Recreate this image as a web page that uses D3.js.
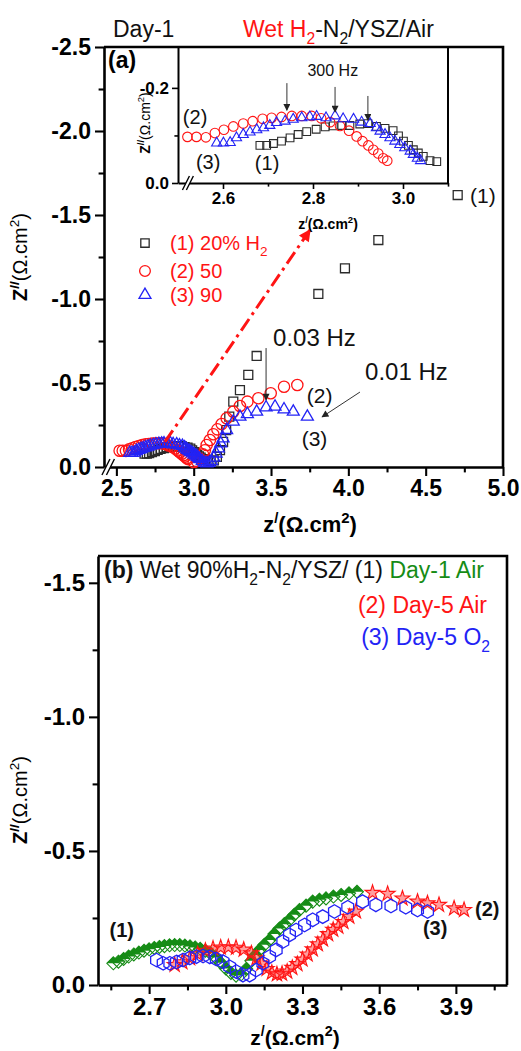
<!DOCTYPE html>
<html lang="en">
<head>
<meta charset="UTF-8">
<title>Impedance spectra, wet H2-N2/YSZ</title>
<style>
  body { margin: 0; background: #fff; }
  svg text { font-family: Arial, "Liberation Sans", sans-serif; }
</style>
<script src="https://d3js.org/d3.v7.min.js"></script>
</head>
<body>
<script>
// ---------- panel (a): high-frequency arcs (also shown in the inset), [Z', Z'']
var hfH2_20 = [[2.682,-0.079],[2.697,-0.079],[2.712,-0.083],[2.730,-0.088],[2.749,-0.095],[2.767,-0.102],
  [2.786,-0.108],[2.807,-0.113],[2.827,-0.118],[2.845,-0.120],[2.864,-0.121],[2.882,-0.121],[2.904,-0.124],
  [2.922,-0.125],[2.941,-0.119],[2.960,-0.115],[2.978,-0.110],[2.990,-0.099],[3.001,-0.088],[3.012,-0.079],
  [3.023,-0.070],[3.034,-0.063],[3.045,-0.056],[3.060,-0.047],[3.075,-0.045]];
var hfH2_50 = [[2.521,-0.097],[2.541,-0.097],[2.562,-0.096],[2.582,-0.105],[2.602,-0.112],[2.623,-0.119],
  [2.645,-0.125],[2.666,-0.130],[2.688,-0.135],[2.708,-0.137],[2.730,-0.139],[2.753,-0.141],[2.775,-0.141],
  [2.797,-0.141],[2.818,-0.136],[2.838,-0.128],[2.860,-0.120],[2.880,-0.110],[2.897,-0.098],[2.910,-0.088],
  [2.923,-0.079],[2.934,-0.070],[2.945,-0.062],[2.956,-0.052],[2.965,-0.047]];
var hfH2_90 = [[2.586,-0.084],[2.601,-0.084],[2.616,-0.085],[2.630,-0.095],[2.645,-0.102],[2.660,-0.107],
  [2.675,-0.112],[2.690,-0.116],[2.704,-0.121],[2.719,-0.127],[2.738,-0.130],[2.756,-0.134],[2.775,-0.137],
  [2.793,-0.139],[2.808,-0.140],[2.829,-0.137],[2.849,-0.141],[2.867,-0.135],[2.890,-0.134],[2.908,-0.128],
  [2.927,-0.125],[2.941,-0.116],[2.949,-0.109],[2.960,-0.102],[2.971,-0.095],[2.982,-0.088],[2.993,-0.081],
  [3.004,-0.074],[3.016,-0.067],[3.023,-0.060],[3.032,-0.052],[3.039,-0.047]];
// ---------- panel (a): low-frequency part (main plot only)
var lfH2_20 = [[3.090,-0.040],[3.110,-0.035],[3.130,-0.040],[3.150,-0.060],[3.170,-0.100],[3.190,-0.150],
  [3.210,-0.220],[3.230,-0.300],[3.256,-0.389],[3.299,-0.458],[3.353,-0.548],[3.407,-0.661],
  [3.806,-1.030],[3.978,-1.183],[4.194,-1.351],[4.707,-1.619]];
var lfH2_50 = [[3.000,-0.030],[3.020,-0.035],[3.040,-0.050],[3.060,-0.075],[3.072,-0.100],[3.084,-0.131],
  [3.105,-0.161],[3.127,-0.195],[3.153,-0.224],[3.181,-0.256],[3.213,-0.290],[3.256,-0.329],[3.299,-0.363],
  [3.347,-0.389],[3.418,-0.409],[3.498,-0.439],[3.584,-0.478],[3.670,-0.488]];
var lfH2_90 = [[3.055,-0.035],[3.070,-0.025],[3.085,-0.022],[3.100,-0.025],[3.115,-0.035],[3.130,-0.055],
  [3.145,-0.080],[3.160,-0.110],[3.175,-0.140],[3.190,-0.170],[3.213,-0.220],[3.256,-0.270],[3.299,-0.299],
  [3.347,-0.315],[3.407,-0.329],[3.468,-0.355],[3.526,-0.359],[3.584,-0.343],[3.644,-0.329],[3.735,-0.299]];

// ---------- panel (b), [Z', Z'']
var day1Air = [[2.560,-0.081],[2.580,-0.087],[2.600,-0.097],[2.620,-0.106],[2.640,-0.114],[2.660,-0.121],
  [2.680,-0.128],[2.700,-0.133],[2.720,-0.138],[2.740,-0.142],[2.760,-0.145],[2.780,-0.148],[2.800,-0.149],
  [2.820,-0.149],[2.840,-0.147],[2.860,-0.144],[2.880,-0.140],[2.900,-0.135],[2.920,-0.128],[2.940,-0.118],
  [2.960,-0.103],[2.980,-0.083],[3.000,-0.062],[3.020,-0.045],[3.040,-0.035],[3.060,-0.040],[3.080,-0.060],
  [3.100,-0.090],[3.116,-0.112],[3.132,-0.131],[3.151,-0.150],[3.171,-0.168],[3.190,-0.190],[3.210,-0.211],
  [3.229,-0.227],[3.249,-0.243],[3.268,-0.262],[3.288,-0.280],[3.314,-0.296],[3.340,-0.311],[3.366,-0.318],
  [3.392,-0.323],[3.421,-0.330],[3.451,-0.336],[3.482,-0.342],[3.513,-0.348]];
var day5Air = [[2.800,-0.075],[2.830,-0.085],[2.860,-0.100],[2.890,-0.115],[2.920,-0.128],[2.950,-0.136],
  [2.980,-0.140],[3.010,-0.141],[3.040,-0.139],[3.070,-0.132],[3.100,-0.118],[3.120,-0.100],[3.140,-0.080],
  [3.160,-0.060],[3.180,-0.046],[3.200,-0.040],[3.220,-0.042],[3.240,-0.050],[3.260,-0.064],[3.280,-0.078],
  [3.300,-0.095],[3.320,-0.114],[3.340,-0.133],[3.360,-0.152],[3.380,-0.170],[3.400,-0.190],[3.420,-0.206],
  [3.440,-0.218],[3.460,-0.235],[3.483,-0.255],[3.509,-0.274],[3.574,-0.344],[3.633,-0.340],[3.691,-0.323],
  [3.750,-0.311],[3.789,-0.305],[3.834,-0.299],[3.893,-0.286],[3.932,-0.280]];
var day5O2 = [[2.729,-0.093],[2.755,-0.081],[2.781,-0.081],[2.807,-0.086],[2.833,-0.093],[2.859,-0.101],
  [2.885,-0.106],[2.911,-0.108],[2.937,-0.105],[2.963,-0.097],[2.989,-0.087],[3.015,-0.068],[3.041,-0.050],
  [3.067,-0.037],[3.093,-0.037],[3.119,-0.056],[3.145,-0.081],[3.171,-0.106],[3.197,-0.131],[3.223,-0.162],
  [3.249,-0.187],[3.275,-0.205],[3.308,-0.224],[3.340,-0.243],[3.379,-0.255],[3.425,-0.274],[3.477,-0.290],
  [3.535,-0.311],[3.587,-0.299],[3.646,-0.295],[3.704,-0.290],[3.750,-0.280],[3.789,-0.274]];

// ---------- ticks
var aXTicks = [2.5, 3.0, 3.5, 4.0, 4.5, 5.0];
var aXMinor = [2.75, 3.25, 3.75, 4.25, 4.75];
var aYTicks = [0, -0.5, -1.0, -1.5, -2.0, -2.5];
var aYMinor = [-0.25, -0.75, -1.25, -1.75, -2.25];
var inXTicks = [2.6, 2.8, 3.0];
var inXMinor = [2.7, 2.9, 3.1];
var inYTicks = [0, -0.2];
var inYMinor = [-0.1];
var bXTicks = [2.7, 3.0, 3.3, 3.6, 3.9];
var bXMinor = [2.55, 2.85, 3.15, 3.45, 3.75, 4.05];
var bYTicks = [0, -0.5, -1.0, -1.5];
var bYMinor = [-0.25, -0.75, -1.25];

// ---------- annotations, in data units
var legendRowsA = [-1.333, -1.167, -1.024];
var notesA = [
  {t: '(1)', x: 4.787, y: -1.571, fs: 21},
  {t: '(2)', x: 3.731, y: -0.381, fs: 21},
  {t: '(3)', x: 3.698, y: -0.125, fs: 21},
  {t: '0.03 Hz', x: 3.513, y: -0.72, fs: 24},
  {t: '0.01 Hz', x: 4.108, y: -0.518, fs: 24}
];
var arrowsA = [[3.468, -0.708, 3.468, -0.399], [4.075, -0.446, 3.830, -0.298]];
var trendA = [2.814, -0.149, 3.752, -1.411];
var notesI = [
  {t: '(2)', x: 2.538, y: -0.124, fs: 20},
  {t: '(3)', x: 2.567, y: -0.029, fs: 20},
  {t: '(1)', x: 2.698, y: -0.027, fs: 20},
  {t: '300 Hz', x: 2.844, y: -0.225, fs: 16}
];
var arrowsI = [[2.742, -0.210, 2.742, -0.153], [2.849, -0.202, 2.849, -0.149], [2.922, -0.183, 2.922, -0.132]];
var notesB = [
  {t: '(1)', x: 2.593, y: -0.179, a: 'middle'},
  {t: '(2)', x: 3.975, y: -0.257, a: 'start'},
  {t: '(3)', x: 3.771, y: -0.187, a: 'start'}
];

var RED = '#ff1414', BLUE = '#2323f5', GREEN = '#168c16', BLACK = '#2b2b2b';

var svg = d3.select('body').append('svg').attr('width', 521).attr('height', 1051);

var defs = svg.append('defs');
function arrowHead(id, color, w, h) {
  defs.append('marker').attr('id', id)
    .attr('viewBox', '0 0 10 10').attr('refX', 9).attr('refY', 5)
    .attr('markerWidth', w).attr('markerHeight', h)
    .attr('markerUnits', 'userSpaceOnUse').attr('orient', 'auto')
    .append('path').attr('d', 'M0,0L10,5L0,10Z').attr('fill', color);
}
arrowHead('ahRed', RED, 15, 12);
arrowHead('ahBlk', '#222', 9, 7);

// scales
var xa = d3.scaleLinear().domain([2.42, 5.0]).range([104, 503]);
var ya = d3.scaleLinear().domain([0, -2.5]).range([467, 47]);
var xi = d3.scaleLinear().domain([2.5, 3.1]).range([178, 448]);
var yi = d3.scaleLinear().domain([0, -0.286]).range([183, 47]);
var xb = d3.scaleLinear().domain([2.5, 4.1]).range([98, 507]);
var yb = d3.scaleLinear().domain([0, -1.6]).range([985, 556]);

var fmt1 = function(d) { return Math.abs(d) < 1e-9 ? '0.0' : d.toFixed(1); };

// text with sub / superscripts
function richText(sel, x, y, fs, parts, attrs) {
  var t = sel.append('text').attr('x', x).attr('y', y).style('font-size', fs + 'px');
  Object.keys(attrs || {}).forEach(function(k) { t.attr(k, attrs[k]); });
  var cur = 0;
  parts.forEach(function(p) {
    var target = p.sub ? 0.3 * fs : p.sup ? -0.42 * fs : 0;
    var s = t.append('tspan').attr('dy', target - cur).text(p.t);
    cur = target;
    if (p.sub || p.sup) s.style('font-size', (fs * 0.68) + 'px');
    if (p.fill) s.attr('fill', p.fill);
    if (p.bold) s.style('font-weight', 'bold');
    if (p.normal) s.style('font-weight', 'normal');
  });
  return t;
}

function axes(g, x, y, o) {
  var x0 = x.range()[0], x1 = x.range()[1], y0 = y.range()[0], y1 = y.range()[1];
  var bx = g.append('g').attr('transform', 'translate(0,' + y0 + ')');
  bx.call(d3.axisBottom(x).tickValues(o.xt).tickFormat(fmt1).tickSize(o.tk).tickSizeOuter(0).tickPadding(o.pad));
  bx.append('g').call(d3.axisBottom(x).tickValues(o.xm).tickFormat('').tickSize(o.tk * 0.6))
    .select('.domain').remove();
  var by = g.append('g').attr('transform', 'translate(' + x0 + ',0)');
  by.call(d3.axisLeft(y).tickValues(o.yt).tickFormat(fmt1).tickSize(o.tk).tickSizeOuter(0).tickPadding(o.pad));
  by.append('g').call(d3.axisLeft(y).tickValues(o.ym).tickFormat('').tickSize(o.tk * 0.6))
    .select('.domain').remove();
  [bx, by].forEach(function(a) {
    a.selectAll('.domain').attr('stroke', '#000').attr('stroke-width', o.sw);
    a.selectAll('.tick line').attr('stroke', '#000').attr('stroke-width', o.sw * 0.8);
    a.selectAll('.tick text').attr('fill', '#000')
      .style('font-size', o.fs + 'px').style('font-weight', 'bold')
      .style('font-family', 'Arial, "Liberation Sans", sans-serif');
  });
  if (o.frame) {
    g.append('path').attr('d', 'M' + x0 + ',' + y1 + 'H' + x1 + 'V' + y0)
      .attr('fill', 'none').attr('stroke', '#000').attr('stroke-width', o.sw);
  }
  if (o.rightOnly) {
    g.append('line').attr('x1', x1).attr('x2', x1).attr('y1', y1).attr('y2', y0)
      .attr('stroke', '#000').attr('stroke-width', o.sw);
  }
}

function axisBreak(g, px, py, s) {
  g.append('path').attr('d', 'M' + (px - 0.5 * s) + ',' + (py + s) + 'L' + (px + 0.5 * s) + ',' + (py - s))
    .attr('stroke', '#fff').attr('stroke-width', s * 0.55);
  [-0.28, 0.28].forEach(function(k) {
    var cx = px + k * s;
    g.append('path').attr('d', 'M' + (cx - 0.5 * s) + ',' + (py + s) + 'L' + (cx + 0.5 * s) + ',' + (py - s))
      .attr('stroke', '#000').attr('stroke-width', 1.4);
  });
}

// marker shapes
var sym = {
  square: function(s) { return d3.symbol(d3.symbolSquare, s)(); },
  circle: function(s) { return d3.symbol(d3.symbolCircle, s)(); },
  triangle: function(s) { return d3.symbol(d3.symbolTriangle, s)(); },
  star: function(s) { return d3.symbol(d3.symbolStar, s)(); },
  hexagon: function(r) {
    return d3.line()(d3.range(6).map(function(i) {
      var a = Math.PI / 3 * i; return [r * Math.sin(a), -r * Math.cos(a)];
    })) + 'Z';
  }
};

function plot(g, data, x, y, draw) {
  g.append('g').selectAll('g').data(data).enter().append('g')
    .attr('transform', function(d) { return 'translate(' + x(d[0]) + ',' + y(d[1]) + ')'; })
    .each(function() { draw(d3.select(this)); });
}
function openMark(shape, size, color, sw) {
  return function(s) {
    s.append('path').attr('d', sym[shape](size)).attr('fill', 'none')
      .attr('stroke', color).attr('stroke-width', sw || 1.2);
  };
}

function notes(g, list, x, y, anchor) {
  list.forEach(function(n) {
    g.append('text').attr('x', x(n.x)).attr('y', y(n.y)).attr('text-anchor', n.a || anchor)
      .style('font-size', (n.fs || 20) + 'px').attr('fill', '#111').text(n.t);
  });
}
function arrows(g, list, x, y, marker, color, w, dash) {
  list.forEach(function(a) {
    g.append('line').attr('x1', x(a[0])).attr('y1', y(a[1])).attr('x2', x(a[2])).attr('y2', y(a[3]))
      .attr('stroke', color).attr('stroke-width', w).attr('stroke-dasharray', dash || null)
      .attr('marker-end', 'url(#' + marker + ')');
  });
}

// ======================= panel (a)
var ga = svg.append('g');
richText(ga, 113, 37, 23, [{t: 'Day-1'}], {fill: '#111'});
richText(ga, 243, 37, 23, [{t: 'Wet H', fill: RED}, {t: '2', sub: true, fill: RED}, {t: '-N'},
  {t: '2', sub: true}, {t: '/YSZ/Air'}], {fill: '#111'});

axes(ga, xa, ya, {xt: aXTicks, xm: aXMinor, yt: aYTicks, ym: aYMinor, tk: 9, pad: 4, fs: 23, sw: 2.6, frame: true});
axisBreak(ga, xa(2.447), ya(0), 8);

ga.append('text').attr('x', 108).attr('y', 68).style('font-size', '23px').style('font-weight', 'bold').text('(a)');

// main data
plot(ga, hfH2_20.concat(lfH2_20), xa, ya, openMark('square', 80, BLACK, 1.3));
plot(ga, hfH2_50.concat(lfH2_50), xa, ya, openMark('circle', 100, RED, 1.3));
plot(ga, hfH2_90.concat(lfH2_90), xa, ya, openMark('triangle', 62, BLUE, 1.3));

// dash-dot trend arrow
arrows(ga, [trendA], xa, ya, 'ahRed', RED, 3, '14,5,3,5');
arrows(ga, arrowsA, xa, ya, 'ahBlk', '#333', 1, null);
notes(ga, notesA, xa, ya, 'start');

// legend
var legSyms = ['square', 'circle', 'triangle'];
var legSizes = [70, 90, 62];
var legColors = [BLACK, RED, BLUE];
legendRowsA.forEach(function(v, i) {
  ga.append('path').attr('transform', 'translate(' + xa(2.685) + ',' + ya(v) + ')')
    .attr('d', sym[legSyms[i]](legSizes[i])).attr('fill', 'none')
    .attr('stroke', legColors[i]).attr('stroke-width', 1.3);
});
richText(ga, xa(2.847), ya(legendRowsA[0]) + 7, 20, [{t: '(1) 20% H'}, {t: '2', sub: true}], {fill: RED});
richText(ga, xa(2.847), ya(legendRowsA[1]) + 7, 20, [{t: '(2) 50'}], {fill: RED});
richText(ga, xa(2.847), ya(legendRowsA[2]) + 7, 20, [{t: '(3) 90'}], {fill: RED});

richText(ga, 310, 532, 22, [{t: 'z'}, {t: '/', sup: true}, {t: '(Ω.cm'}, {t: '2', sup: true}, {t: ')'}],
  {'text-anchor': 'middle', 'font-weight': 'bold'});
var yla = ga.append('g').attr('transform', 'translate(27,257) rotate(-90)');
richText(yla, 0, 0, 20, [{t: 'Z', bold: true}, {t: '//', sup: true, bold: true}, {t: '(Ω.cm'},
  {t: '2', sup: true}, {t: ')'}], {'text-anchor': 'middle'});

// ======================= inset
var gi = svg.append('g');
axes(gi, xi, yi, {xt: inXTicks, xm: inXMinor, yt: inYTicks, ym: inYMinor, tk: 6, pad: 3, fs: 17, sw: 2, rightOnly: true});
axisBreak(gi, xi(2.522), yi(0), 7);
plot(gi, hfH2_20, xi, yi, openMark('square', 60, BLACK, 1.1));
plot(gi, hfH2_50, xi, yi, openMark('circle', 72, RED, 1.1));
plot(gi, hfH2_90, xi, yi, openMark('triangle', 45, BLUE, 1.1));
arrows(gi, arrowsI, xi, yi, 'ahBlk', '#333', 1, null);
notes(gi, notesI, xi, yi, 'middle');
richText(gi, 328, 229, 14, [{t: 'z'}, {t: '/', sup: true}, {t: '(Ω.cm'}, {t: '2', sup: true}, {t: ')'}],
  {'text-anchor': 'middle', 'font-weight': 'bold'});
var yli = gi.append('g').attr('transform', 'translate(150,123) rotate(-90)');
richText(yli, 0, 0, 14, [{t: 'Z', bold: true}, {t: '//', sup: true, bold: true}, {t: '(Ω.cm'},
  {t: '2', sup: true}, {t: ')'}], {'text-anchor': 'middle'});

// ======================= panel (b)
var gb = svg.append('g');
axes(gb, xb, yb, {xt: bXTicks, xm: bXMinor, yt: bYTicks, ym: bYMinor, tk: 9, pad: 4, fs: 24, sw: 2.6, frame: true});

richText(gb, 104, 578, 23, [{t: '(b)', bold: true}, {t: ' Wet 90%H'}, {t: '2', sub: true}, {t: '-N'},
  {t: '2', sub: true}, {t: '/YSZ/ (1) '}, {t: 'Day-1 Air', fill: GREEN}], {fill: '#111'});
richText(gb, 487, 613, 23, [{t: '(2) Day-5 Air'}], {fill: RED, 'text-anchor': 'end'});
richText(gb, 490, 645, 23, [{t: '(3) Day-5 O'}, {t: '2', sub: true}], {fill: BLUE, 'text-anchor': 'end'});

// day-1 air: half-filled diamonds
plot(gb, day1Air, xb, yb, function(s) {
  var r = 6.5;
  s.append('path').attr('d', 'M0,' + (-r) + 'L' + r + ',0L' + (-r) + ',0Z').attr('fill', GREEN);
  s.append('path').attr('d', 'M0,' + (-r) + 'L' + r + ',0L0,' + r + 'L' + (-r) + ',0Z')
    .attr('fill', 'none').attr('stroke', GREEN).attr('stroke-width', 1.1);
});
// day-5 air: stars
plot(gb, day5Air, xb, yb, function(s) {
  s.append('path').attr('d', sym.star(70)).attr('fill', 'rgba(255,40,40,0.45)')
    .attr('stroke', RED).attr('stroke-width', 1.1);
});
// day-5 O2: open hexagons
plot(gb, day5O2, xb, yb, function(s) {
  s.append('path').attr('d', sym.hexagon(6.8)).attr('fill', 'none')
    .attr('stroke', BLUE).attr('stroke-width', 1.3);
});

notesB.forEach(function(n) {
  gb.append('text').attr('x', xb(n.x)).attr('y', yb(n.y)).attr('text-anchor', n.a)
    .style('font-size', '20px').style('font-weight', 'bold').attr('fill', '#111').text(n.t);
});

richText(gb, 295, 1045, 21, [{t: 'z'}, {t: '/', sup: true}, {t: '(Ω.cm'}, {t: '2', sup: true}, {t: ')'}],
  {'text-anchor': 'middle', 'font-weight': 'bold'});
var ylb = gb.append('g').attr('transform', 'translate(27,800) rotate(-90)');
richText(ylb, 0, 0, 20, [{t: 'Z', bold: true}, {t: '//', sup: true, bold: true}, {t: '(Ω.cm'},
  {t: '2', sup: true}, {t: ')'}], {'text-anchor': 'middle'});
</script>
</body>
</html>
